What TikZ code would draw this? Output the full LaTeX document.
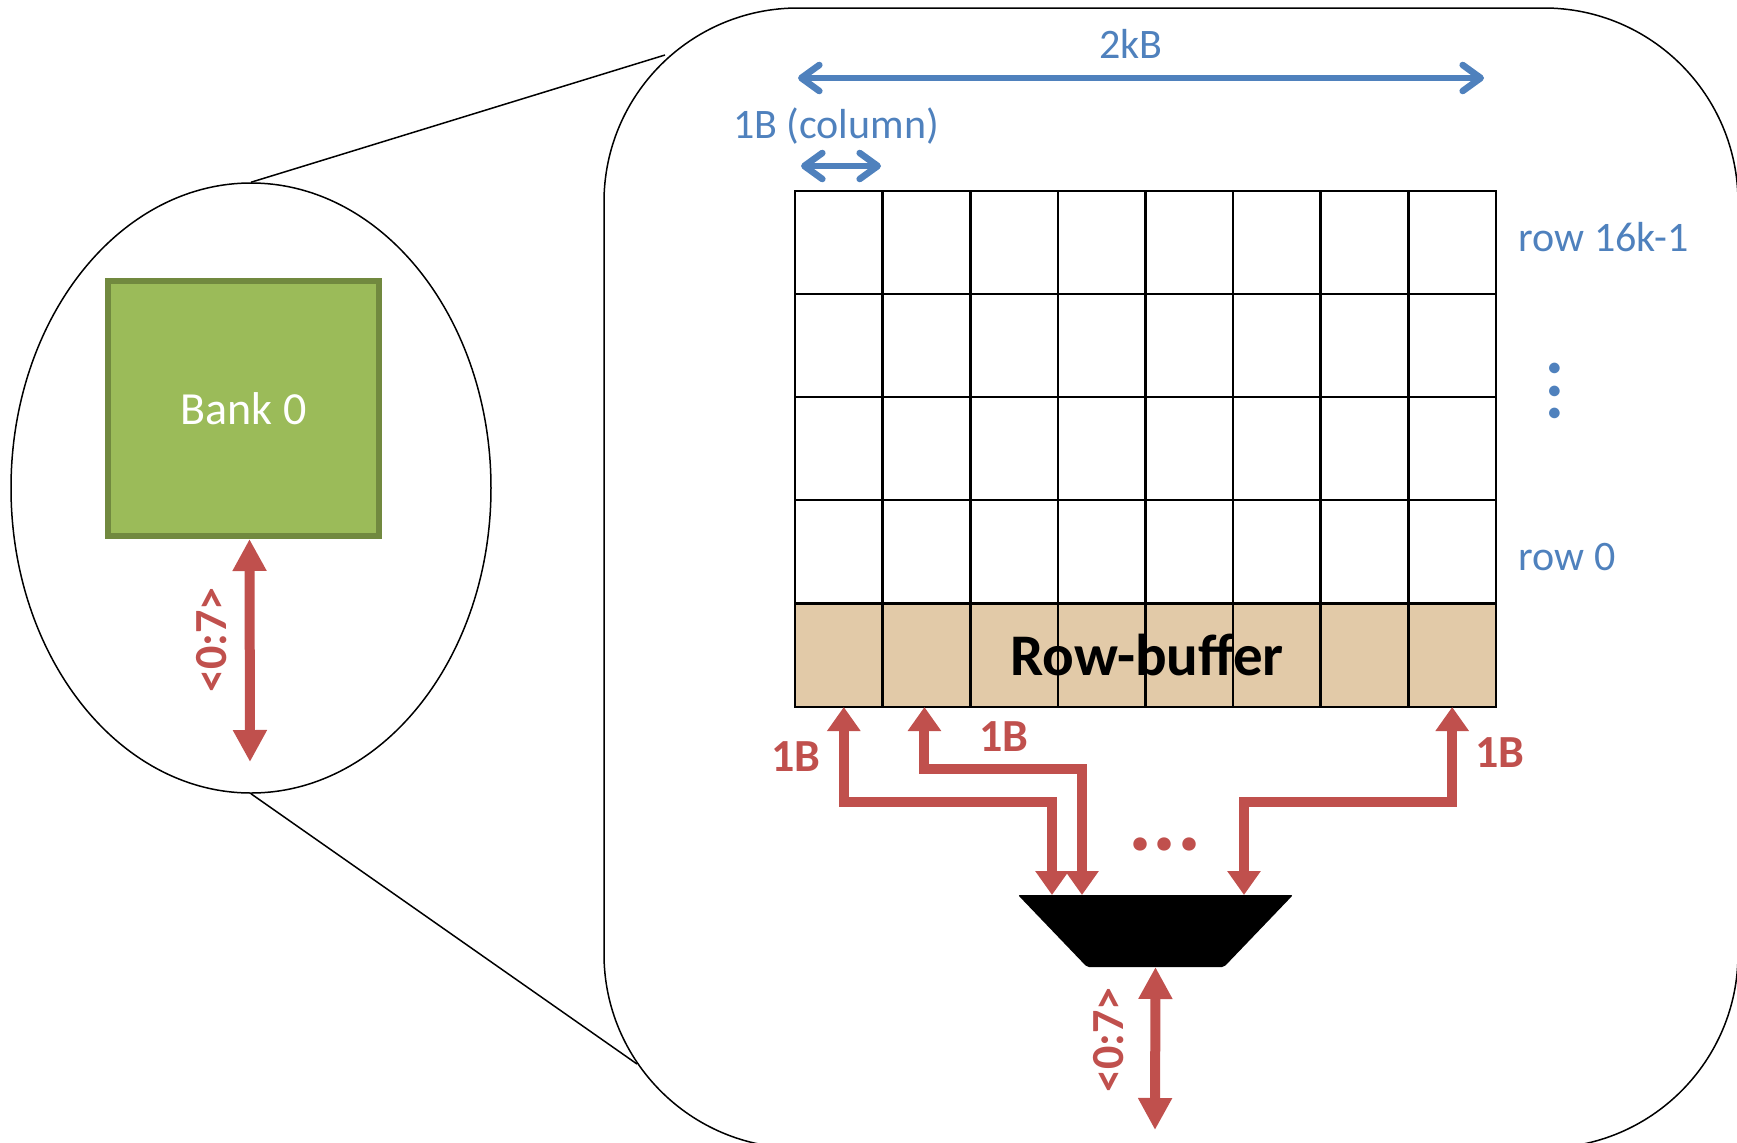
\documentclass[tikz,border=0pt]{standalone}
\usepackage{fontspec}
\setmainfont{Carlito}
\usetikzlibrary{arrows.meta,shapes.geometric}

\definecolor{dimblue}{RGB}{79,129,189}
\definecolor{busred}{RGB}{192,80,77}
\definecolor{bankgreen}{RGB}{155,187,89}
\definecolor{bankedge}{RGB}{113,137,63}
\definecolor{buftan}{RGB}{226,202,168}

\tikzset{
  cell/.style={draw=black, line width=1.35pt, minimum width=43.8125pt, minimum height=51.5pt, inner sep=0pt, outer sep=0pt},
  dimlabel/.style={text=dimblue, inner sep=0.75pt, font=\fontsize{21}{25}\selectfont},
  buslabel/.style={text=busred, inner sep=0.75pt, font=\bfseries\fontsize{23}{27}\selectfont},
  dimarrow/.style={draw=dimblue, line width=3.3pt, {Straight Barb[length=9pt,width=13pt,round]}-{Straight Barb[length=9pt,width=13pt,round]}},
  bus/.style={draw=busred, line width=5pt, {Triangle[length=16pt,width=16pt]}-{Triangle[length=16pt,width=16pt]}},
  feed/.style={draw=busred, line width=5pt, {Triangle[length=12pt,width=16pt]}-{Triangle[length=12pt,width=16pt]}},
}

\begin{document}
\begin{tikzpicture}[x=0.5pt,y=0.5pt,yscale=-1,xscale=1]
		\useasboundingbox (0,0) rectangle (1737,1142);

		% Draw the large rounded frame of the bank detail (runs off the page)
		\node[draw, line width=0.75pt, rounded corners=97pt, minimum width=567pt, minimum height=570pt, inner sep=0pt] (detail) at (1171,578) {};

		% Draw the ellipse around the bank and the two callout lines
		\node[ellipse, draw, line width=0.75pt, minimum width=240pt, minimum height=305pt, inner sep=0pt] (bankzoom) at (251,488) {};
		\coordinate (calltop) at (665,55);
		\coordinate (callbot) at (637,1064);
		\draw[line width=0.75pt] (bankzoom.north) -- (calltop);
		\draw[line width=0.75pt] (bankzoom.south) -- (callbot);

		% The green bank box with its 8-bit bus
		\node[fill=bankgreen, draw=bankedge, line width=3pt, minimum width=135.5pt, minimum height=127.5pt, inner sep=0pt, text=white, font=\fontsize{23}{27}\selectfont] (bank) at (243.5,408.5) {Bank 0};
		\coordinate (bankbus) at (250,762);
		\draw[bus] ([xshift=3pt]bank.south) -- (bankbus);
		\node[buslabel, rotate=90] (banksize) at (212,640) {<0:7>};

		% The cell array (4 rows) and the row-buffer below it
		\foreach \c in {1,...,8}{
			\foreach \r in {1,...,4}
				\node[cell] (r\r c\c) at ({795+(\c-0.5)*87.625},{191+(\r-0.5)*103}) {};
			\node[cell, fill=buftan] (buf\c) at ({795+(\c-0.5)*87.625},655.5) {};
		}
		\node[inner sep=0pt, font=\bfseries\fontsize{29.5}{34}\selectfont] (buflabel) at (1147,655) {Row-buffer};

		% The blue size arrows above the array
		\coordinate (rowstart) at (798,78);
		\coordinate (rowend) at (1484,78);
		\draw[dimarrow] (rowstart) -- (rowend);
		\node[dimlabel] (rowsize) at (1131,44) {2kB};
		\coordinate (colstart) at (801,166);
		\coordinate (colend) at (881,166);
		\draw[dimarrow] (colstart) -- (colend);
		\node[dimlabel] (colsize) at (836,126) {1B (column)};

		% Row numbers on the right
		\node[dimlabel, anchor=west] (toprow) at (1517,237) {row 16k-1};
		\node[dimlabel, rotate=90, font=\fontsize{44}{50}\selectfont] (rowdots) at (1555,391) {...};
		\node[dimlabel, anchor=west] (bottomrow) at (1517,557) {row 0};

		% The column mux
		\node[minimum width=137.5pt, minimum height=36pt, inner sep=0pt, outer sep=0pt] (mux) at (1155.5,931) {};
		\fill[rounded corners=1pt] (mux.north west) -- (mux.north east) -- ([xshift=-34.5pt]mux.south east) -- ([xshift=34.5pt]mux.south west) -- cycle;
		\coordinate (in1) at (1052,895);
		\coordinate (in2) at (1082,895);
		\coordinate (in3) at (1244,895);

		% Red 1B links from the row-buffer into the mux
		\draw[feed] ([xshift=2.5pt]buf1.south) -- ++(0,95) -| (in1);
		\draw[feed] ([xshift=-1pt]buf2.south) -- ++(0,62) -| (in2);
		\draw[feed] (buf8.south) -- ++(0,95) -| (in3);
		\node[buslabel] (link1) at (796,757) {1B};
		\node[buslabel] (link2) at (1004,737) {1B};
		\node[buslabel] (link8) at (1500,753) {1B};
		\node[text=busred, inner sep=0pt, font=\bfseries\fontsize{45}{50}\selectfont] (moredots) at (1165,844) {...};

		% Mux output bus
		\coordinate (muxout) at (1155,1130);
		\draw[bus] (mux.south) -- (muxout);
		\node[buslabel, rotate=90] (muxsize) at (1109,1040) {<0:7>};
	\end{tikzpicture}
\end{document}
